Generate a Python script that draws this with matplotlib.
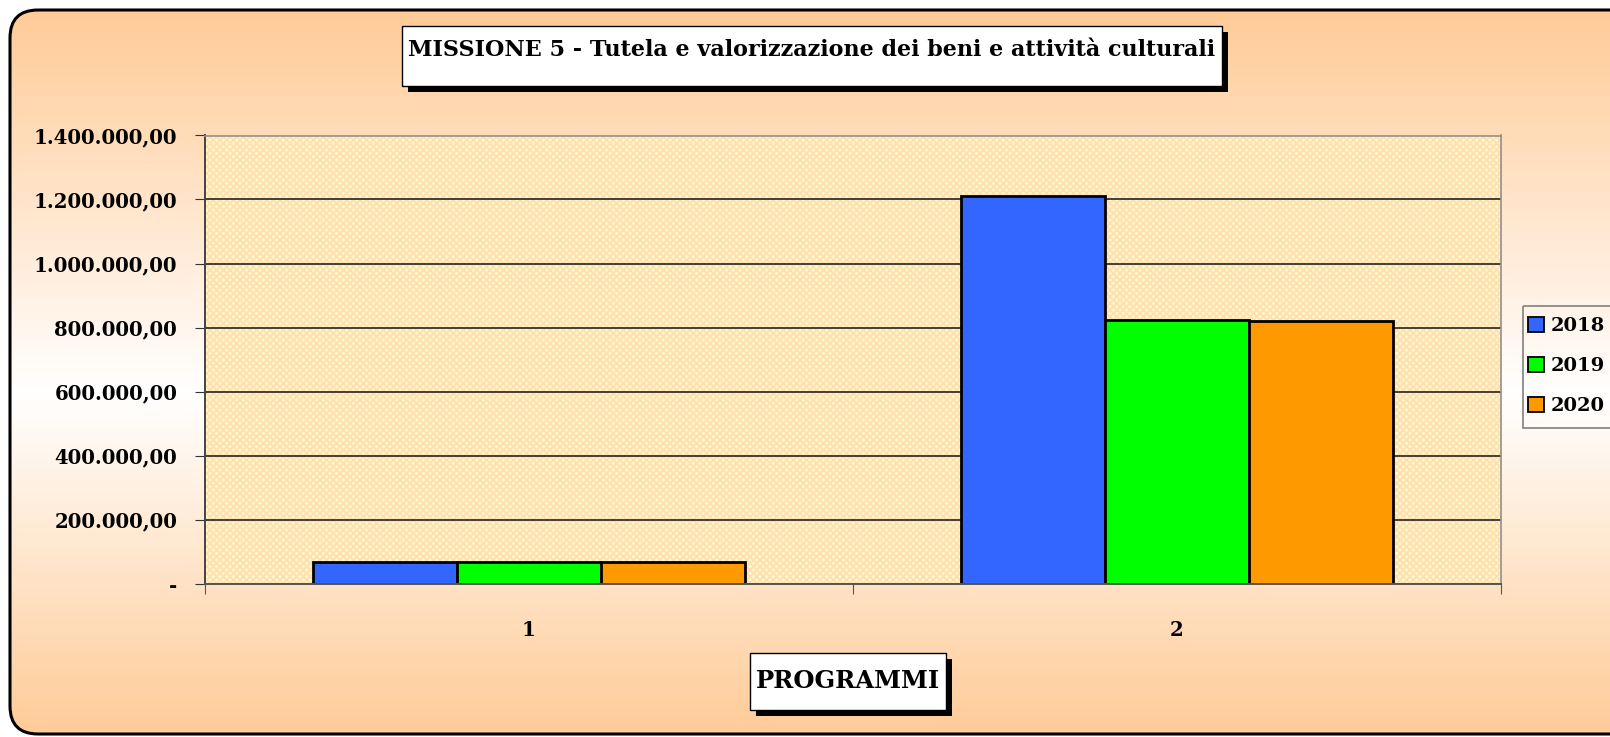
import matplotlib
matplotlib.use("Agg")
import matplotlib.pyplot as plt
import numpy as np
from matplotlib.patches import Rectangle, FancyBboxPatch, Patch
from matplotlib.colors import LinearSegmentedColormap

# data
programmi = ["1", "2"]
anni = ["2018", "2019", "2020"]
val_2018 = [66000, 1210000]
val_2019 = [66000, 824000]
val_2020 = [66000, 820000]
colori = ["#3366FF", "#00FF00", "#FF9900"]

W, H = 1610, 737
fig = plt.figure(figsize=(W / 100, H / 100), dpi=100)
fig.patch.set_facecolor("white")
plt.rcParams["hatch.linewidth"] = 1.3


def fx(px):
    return px / W


def fy(py):
    # pixel from top -> figure fraction from bottom
    return 1 - py / H


# background with vertical gradient, rounded border
bg = fig.add_axes([0, 0, 1, 1])
bg.set_xlim(0, W)
bg.set_ylim(H, 0)
bg.axis("off")
cmap = LinearSegmentedColormap.from_list(
    "grad", [(0, "#FFCB97"), (0.53, "#FFFFFF"), (1, "#FFCB97")])
grad = np.linspace(0, 1, 256).reshape(-1, 1)
im = bg.imshow(grad, cmap=cmap, aspect="auto", extent=(10, 1640, 735, 10), zorder=0)
box = FancyBboxPatch((10, 10), 1640, 724, boxstyle="round,pad=0,rounding_size=28",
                     facecolor="none", edgecolor="black", lw=2.2, zorder=2)
bg.add_patch(box)
im.set_clip_path(box)


def text_box(x0, y0, x1, y1, txt, size, ty=None):
    bg.add_patch(Rectangle((x0 + 6, y0 + 6), x1 - x0, y1 - y0, facecolor="black",
                           edgecolor="none", zorder=3))
    bg.add_patch(Rectangle((x0, y0), x1 - x0, y1 - y0, facecolor="white",
                           edgecolor="black", lw=1, zorder=4))
    if ty is None:
        ty = (y0 + y1) / 2
    bg.text((x0 + x1) / 2, ty, txt, ha="center", va="center", fontsize=size,
            fontweight="bold", family="DejaVu Serif", zorder=5)


text_box(402, 26, 1222, 86,
         "MISSIONE 5 - Tutela e valorizzazione dei beni e attività culturali", 16, ty=50)
text_box(750, 653, 946, 710, "PROGRAMMI", 17.5)

# legend frame
bg.add_patch(Rectangle((1523, 306), 140, 122, facecolor="none", edgecolor="#808080",
                       lw=1.2, zorder=3))

# plot area
ax = fig.add_axes([fx(205), fy(583.5), fx(1501 - 205), (583.5 - 135.5) / H])
ax.set_facecolor("none")
ax.add_patch(Rectangle((0, 0), 1, 1, transform=ax.transAxes, facecolor="#FFF8CA",
                       edgecolor="#FFDFB0", hatch="xxxxx", lw=0, zorder=0))

x = np.arange(len(programmi))
bw = 0.222
for i, (vals, c) in enumerate(zip([val_2018, val_2019, val_2020], colori)):
    ax.bar(x + (i - 1) * bw, vals, bw, color=c, edgecolor="black", lw=2,
           zorder=3, label=anni[i])

ax.set_xlim(-0.5, 1.5)
ax.set_ylim(0, 1400000)
ax.set_yticks(np.arange(0, 1400001, 200000))


def fmt(v):
    if v == 0:
        return "-"
    return f"{v:,.2f}".replace(",", "X").replace(".", ",").replace("X", ".")


ax.set_yticklabels([fmt(v) for v in ax.get_yticks()])
ax.yaxis.grid(True, color="#222222", lw=1.2, zorder=1)
ax.set_axisbelow(False)
ax.set_xticks([-0.5, 0.5, 1.5], minor=False)
ax.set_xticklabels([])
ax.set_xticks(x, minor=True)
ax.set_xticklabels(programmi, minor=True)
ax.tick_params(axis="x", which="major", length=7, color="#555555", direction="out")
ax.tick_params(axis="x", which="minor", length=0, pad=26)
ax.tick_params(axis="y", length=7, color="#333333", pad=13)
for lab in ax.get_yticklabels() + ax.get_xticklabels(minor=True):
    lab.set_family("DejaVu Serif")
    lab.set_fontweight("bold")
    lab.set_fontsize(14.2)
for s in ["top", "right"]:
    ax.spines[s].set_color("#909090")
    ax.spines[s].set_linewidth(1.2)
ax.spines["left"].set_color("#444444")
ax.spines["left"].set_linewidth(1.4)
ax.spines["bottom"].set_color("#555555")
ax.spines["bottom"].set_linewidth(1.4)
for s in ax.spines.values():
    s.set_zorder(4)

handles = [Patch(facecolor=c, edgecolor="black", lw=1.3, label=a) for c, a in zip(colori, anni)]
leg = ax.legend(handles=handles, loc="upper left", bbox_to_anchor=(fx(1522), fy(311)),
                bbox_transform=fig.transFigure, frameon=False, handlelength=0.85,
                handleheight=0.85, handletextpad=0.3, labelspacing=1.1, borderpad=0.3,
                borderaxespad=0, prop={"family": "DejaVu Serif", "weight": "bold", "size": 14})

fig.savefig("out.png", dpi=100)
